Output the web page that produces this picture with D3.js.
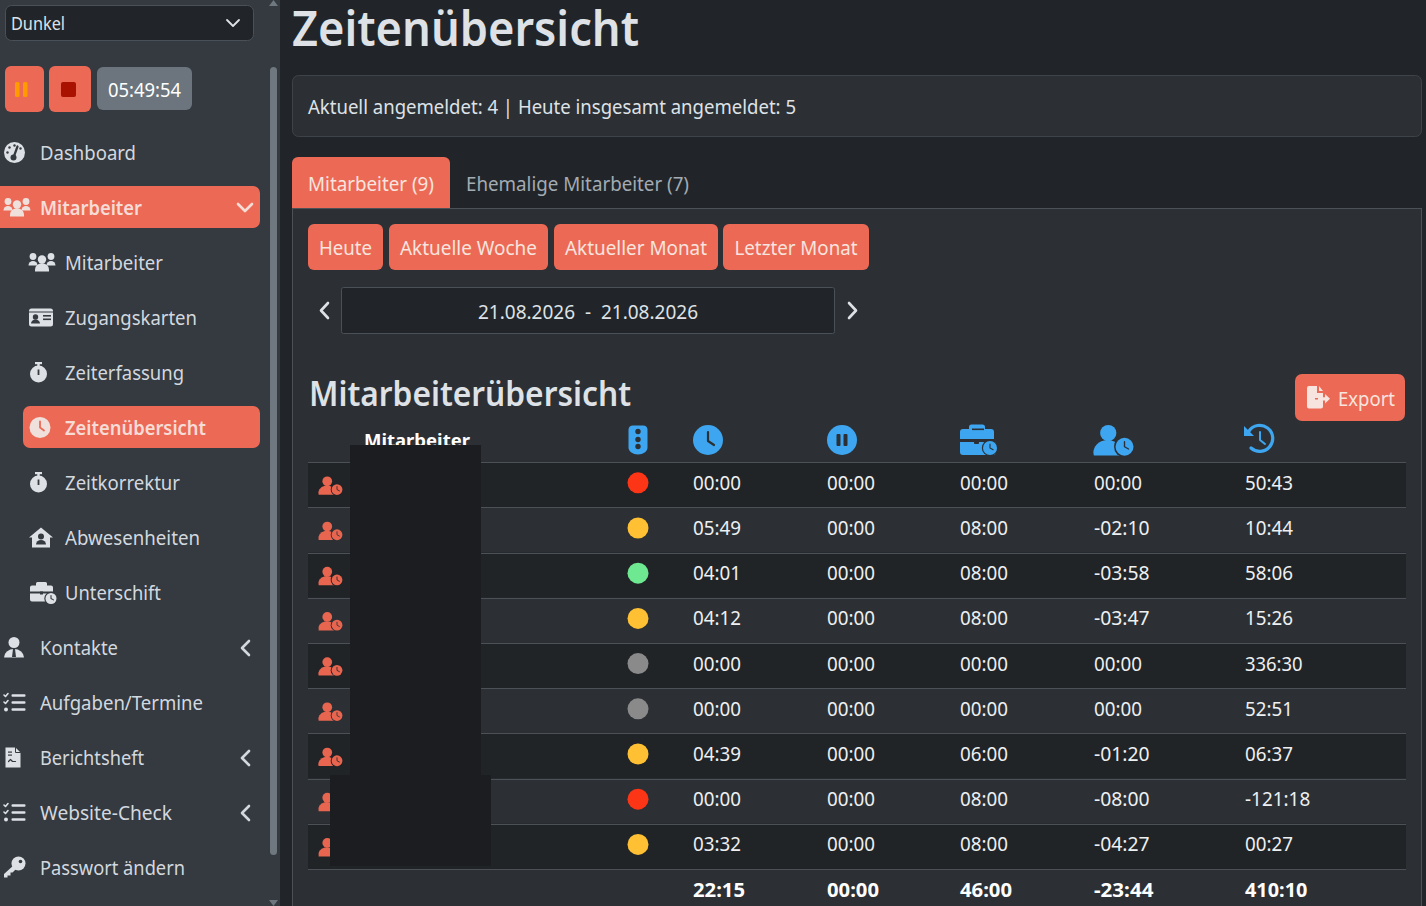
<!DOCTYPE html>
<html><head><meta charset="utf-8">
<script src="https://cdn.jsdelivr.net/npm/d3@7"></script>
<style>html,body{margin:0;padding:0;background:#212529;overflow:hidden}svg{display:block}text{font-family:"Noto Sans",sans-serif}</style>
</head><body><svg id="c" width="1426" height="906"></svg>
<script>
// ---- data ----
const statusCol = ["red","yellow","green","yellow","gray","gray","yellow","red","yellow"];
const worked = ["00:00","05:49","04:01","04:12","00:00","00:00","04:39","00:00","03:32"];
const pauses = ["00:00","00:00","00:00","00:00","00:00","00:00","00:00","00:00","00:00"];
const target = ["00:00","08:00","08:00","08:00","00:00","00:00","06:00","08:00","08:00"];
const diff = ["00:00","-02:10","-03:58","-03:47","00:00","00:00","-01:20","-08:00","-04:27"];
const balance = ["50:43","10:44","58:06","15:26","336:30","52:51","06:37","-121:18","00:27"];
const totals = ["22:15","00:00","46:00","-23:44","410:10"];
const navLabels = ["Dashboard","Mitarbeiter","Mitarbeiter","Zugangskarten","Zeiterfassung","Zeitenübersicht","Zeitkorrektur","Abwesenheiten","Unterschift","Kontakte","Aufgaben/Termine","Berichtsheft","Website-Check","Passwort ändern"];
const navIcons = ["gauge","users","users","card","watch","clock","watch","house","case","tie","list","doc","list","key"];
const navWidths = [96,102,98,132,119,141,115,135,96,78,163,104,132,145];
const navIndent = [0,0,1,1,1,1,1,1,1,0,0,0,0,0];
const navActive = [null,"full",null,null,null,"sub",null,null,null,null,null,null,null,null];
const navCaret = [null,"down",null,null,null,null,null,null,null,"left",null,"left","left",null];
const quickRanges = ["Heute","Aktuelle Woche","Aktueller Monat","Letzter Monat"];

// ---- palette / layout ----
const C = {page:"#212529",side:"#343a40",panel:"#2c3035",dark:"#212427",line:"#4b5157",accent:"#ec6a55",text:"#dee2e6",nav:"#d3d8df",blue:"#3ea6f0",red:"#e8654f",
  status:{red:"#fc3516",yellow:"#ffc133",green:"#6ee992",gray:"#8a8a8a"}};
const iconX = {gauge:14.5,users:17,card:41,watch:38.5,clock:40,house:41,case:42,tie:14,list:14.5,doc:12.5,key:14.5};
const svg = d3.select("#c");
const rect=(p,x,y,w,h,f,r=0,s=null)=>p.append("rect").attr("x",x).attr("y",y).attr("width",w).attr("height",h).attr("fill",f).attr("rx",r).attr("stroke",s);
const txt=(p,x,y,t,size,fill,w,weight=400,anchor="start")=>{const e=p.append("text").attr("x",x).attr("y",y).text(t).attr("font-size",size).attr("fill",fill).attr("font-weight",weight).attr("text-anchor",anchor);
  if(w) e.attr("textLength",w).attr("lengthAdjust","spacingAndGlyphs");return e;};
const line=(p,d,s,sw=2)=>p.append("path").attr("d",d).attr("fill","none").attr("stroke",s).attr("stroke-width",sw).attr("stroke-linecap","round").attr("stroke-linejoin","round");
const fill=(p,d,f)=>p.append("path").attr("d",d).attr("fill",f);
const circ=(p,x,y,r,f)=>p.append("circle").attr("cx",x).attr("cy",y).attr("r",r).attr("fill",f);

// ---- icons, centred on 0,0 ----
function clockBadge(g,x,y,r,f,bg){circ(g,x,y,r+1.2,bg);circ(g,x,y,r,f);line(g,`M${x} ${y-r*.55}V${y}L${x+r*.45} ${y+r*.25}`,bg,1.1);}
const icons={
 gauge(g,f,bg){circ(g,0,0,10.5,f);line(g,"M-1 5L3 -6",bg,2.2);circ(g,-1,5,3,bg);[[-7,0],[-5,-5],[0,-7],[6,-4]].forEach(d=>circ(g,d[0],d[1],1.2,bg));},
 users(g,f,bg){[-9,9].forEach(x=>{circ(g,x,-6,3.4,f);fill(g,`M${x-4.5} 3a4.5 4.5 0 0 1 9 0z`,f);});circ(g,0,-3,4.2,f);fill(g,"M-7 9v-2a5 4.5 0 0 1 14 0v2z",f);},
 card(g,f,bg){rect(g,-12,-9,24,18,f,2.5);rect(g,-12,-6,24,1,bg);circ(g,-5.5,-.5,2.7,bg);fill(g,"M-10 6a4.5 4 0 0 1 9 0z",bg);rect(g,2,-2.5,8,1.6,bg);rect(g,2,1,8,1.6,bg);},
 watch(g,f,bg){circ(g,0,1.5,8.5,f);rect(g,-3.5,-10.5,7,2.2,f);rect(g,-1.2,-9,2.4,3,f);rect(g,-.9,-3,1.8,5.5,bg);},
 clock(g,f,bg){circ(g,0,0,10.5,f);line(g,"M0 -6V0L4 3",bg,1.8);},
 house(g,f,bg){fill(g,"M0 -10L12 0H9V10H-9V0H-12Z",f);circ(g,0,-1,3,bg);fill(g,"M-5 7a5 4.5 0 0 1 10 0z",bg);},
 case(g,f,bg){fill(g,"M-12 -5a2 2 0 0 1 2-2h4v-2a1.5 1.5 0 0 1 1.5-1.5h8a1.5 1.5 0 0 1 1.5 1.5v2h4a2 2 0 0 1 2 2v4H-12zM-12 1H11V7a2 2 0 0 1-2 2H-10a2 2 0 0 1-2-2Z",f);rect(g,-2,-1,3,3,bg);clockBadge(g,9,6,5.5,f,bg);},
 tie(g,f,bg){circ(g,0,-5,5.5,f);fill(g,"M-10 10a10 8.5 0 0 1 20 0z",f);fill(g,"M-1 1.5h2l1 8h-4z",bg);},
 list(g,f,bg){[-7,0,7].forEach(y=>{rect(g,-3,y-1.2,14,2.4,f,1);});line(g,"M-10.5 -7.5l1.5 1.5 2.5-3",f,1.6);line(g,"M-10.5 -.5l1.5 1.5 2.5-3",f,1.6);circ(g,-8.5,7,2,f);},
 doc(g,f,bg){fill(g,"M-7 -10H3L8 -5V10H-7Z",f);line(g,"M-4 4l2 -2 2 2 3 0",bg,1.2);rect(g,-4.5,-6,4,1.2,bg);rect(g,-4.5,-3,4,1.2,bg);line(g,"M3 -10V-5H8",bg,1);},
 key(g,f,bg){circ(g,4,-4,7,f);circ(g,6,-6,1.8,bg);fill(g,"M0 -3L3 0L-2 5H-4V8H-7V10H-10.5V6.5Z",f);},
 light(g,f,bg){fill(g,"M-5 -14H5A4.5 4.5 0 0 1 9.5 -10V8C9.5 12 5 15 0 15S-9.5 12 -9.5 8V-10A4.5 4.5 0 0 1 -5 -14Z",f);[-8,0,7].forEach(y=>circ(g,0,y,2.7,bg));},
 bigClock(g,f,bg){circ(g,0,0,15,f);line(g,"M0 -8V1L6 5",bg,2.2);},
 pauseBig(g,f,bg){circ(g,0,0,15,f);rect(g,-5.5,-6,4,12,bg,1);rect(g,1.5,-6,4,12,bg,1);},
 caseBig(g,f,bg){fill(g,"M-19 -8a3 3 0 0 1 3-3h6v-2a2.5 2.5 0 0 1 2.5-2.5h11a2.5 2.5 0 0 1 2.5 2.5v2h6a3 3 0 0 1 3 3v7H-19zM-19 2H17V12a3 3 0 0 1-3 3H-16a3 3 0 0 1-3-3Z",f);rect(g,-7,-11.5,12,1.6,bg);rect(g,-5,0,5,4,bg,1);clockBadge(g,11,8,7,f,bg);},
 personClock(g,f,bg){circ(g,-3,-8,6.5,f);fill(g,"M-14.5 10a11 9.5 0 0 1 22 -5 l0 5z",f);clockBadge(g,10,3,7.2,f,bg);},
 history(g,f,bg){line(g,"M-11 -8A13 13 0 1 1 -9 9",f,3.2);fill(g,"M-16 -13V-3H-6Z",f);line(g,"M0 -7V1L5 5",f,2);},
 fileExport(g,f,bg){fill(g,"M-10 -10a2 2 0 0 1 2-2h8v7h6v5h-8v1.6h8v7a2 2 0 0 1-2 2h-12a2 2 0 0 1-2-2z",f);fill(g,"M2 -12L6 -7H2Z",f);fill(g,"M1 -.8H8V-4L13 .8 8 5.5V2.4H1Z",f);}
};
const icon=(name,x,y,f,bg,s=1)=>{const g=svg.append("g").attr("transform",`translate(${x},${y}) scale(${s})`);icons[name](g,f,bg);return g;};

// ---- page frame ----
rect(svg,0,0,1426,906,C.page);
rect(svg,0,0,280,906,C.side);
rect(svg,270,67,7,788,"#6f787f",3.5);
fill(svg,"M273.5 0L278 6H269Z","#6f787f");
fill(svg,"M273.5 906L278 900H269Z","#6f787f");

// theme select + timer
rect(svg,5.5,5.5,248,35,"#212529",6,"#495057");
txt(svg,11,30,"Dunkel",18,C.text,54);
line(svg,"M227 20l6 6 6-6","#dee2e6",1.8);
rect(svg,5,66,39,46,C.accent,6);
rect(svg,15,82,4.5,15,"#ff9a00",1.5);rect(svg,23,82,4.5,15,"#ff9a00",1.5);
rect(svg,49,66,42,46,C.accent,6);
rect(svg,61,82,15,15,"#a91200",2);
rect(svg,97,67,95,43,"#6c757d",6);
txt(svg,108,97,"05:49:54",20,"#fff",73);

// navigation
const navY=d3.scaleLinear().domain([0,13]).range([153,868]);
navLabels.forEach((label,i)=>{
  const y=navY(i),ind=navIndent[i],active=navActive[i];
  if(active==="full") rect(svg,-8,y-22,268,42,C.accent,7);
  if(active==="sub") rect(svg,23,y-22,237,42,C.accent,7);
  const col=active?"#f6dcd6":C.nav, bg=active?C.accent:C.side;
  const ix=navIcons[i]==="users"&&ind?42:iconX[navIcons[i]];
  icon(navIcons[i],ix,y-.5,active?"#f0e0dc":"#dde1e6",bg);
  txt(svg,ind?65:40,y+7,label,20,col,navWidths[i],active?600:400);
  if(navCaret[i]==="down") line(svg,`M238 ${y-4}l7 7 7-7`,"#f6dcd6",2.6);
  if(navCaret[i]==="left") line(svg,`M249 ${y-7}l-7 7 7 7`,C.nav,2.6);
});

// title + info card
txt(svg,292,46,"Zeitenübersicht",48,C.text,347,600);
rect(svg,292.5,75.5,1129,61,C.panel,6,"#3d4349");
txt(svg,308,114,"Aktuell angemeldet: 4 | Heute insgesamt angemeldet: 5",20,C.text,488);

// tab panel
rect(svg,292.5,208.5,1129,720,C.panel,0,C.line);
fill(svg,"M292 208V163a6 6 0 0 1 6-6H444a6 6 0 0 1 6 6V208Z",C.accent);
txt(svg,308,191,"Mitarbeiter (9)",20,"#f8e4df",126);
txt(svg,466,191,"Ehemalige Mitarbeiter (7)",20,"#a3abb3",223);

// quick ranges
const rangeX=[308,389,554,723],rangeW=[75,159,164,146],rangeT=[53,137,142,123];
quickRanges.forEach((t,i)=>{rect(svg,rangeX[i],224,rangeW[i],46,C.accent,6);txt(svg,rangeX[i]+rangeW[i]/2,255,t,20,"#f8e4df",rangeT[i],400,"middle");});

// date range
rect(svg,341.5,287.5,493,46,C.page,2,"#495057");
txt(svg,478,319,"21.08.2026  -  21.08.2026",20,C.text,220).attr("xml:space","preserve");
line(svg,"M328 303l-7 7.5 7 7.5",C.text,2.6);
line(svg,"M849 303l7 7.5-7 7.5",C.text,2.6);

// section header
txt(svg,309,406,"Mitarbeiterübersicht",35,C.text,322,600);
rect(svg,1295,374,110,47,C.accent,7);
icon("fileExport",1317,398,"#f8e4df",C.accent);
txt(svg,1338,406,"Export",20,"#f8e4df",57);

// table
const rowY=d3.scaleLinear().domain([0,10]).range([462.2,914.2]);
const colX=d3.scaleOrdinal().domain(["status","worked","pause","target","diff","balance"]).range([638,693,827,960,1094,1245]);
const tx0=308,tx1=1406;
const rows=d3.range(9);
txt(svg,364,447,"Mitarbeiter",18.5,"#fff",106,700);
svg.selectAll(".stripe").data(rows).join("rect").attr("class","stripe")
  .attr("x",tx0).attr("width",tx1-tx0).attr("y",d=>rowY(d)).attr("height",d=>rowY(d+1)-rowY(d))
  .attr("fill",d=>d%2?C.panel:C.dark);
svg.selectAll(".rule").data(d3.range(10)).join("line").attr("class","rule")
  .attr("x1",tx0).attr("x2",tx1).attr("y1",d=>Math.round(rowY(d))+.5).attr("y2",d=>Math.round(rowY(d))+.5)
  .attr("stroke",C.line).attr("stroke-width",1);
icon("light",638,439.5,C.blue,C.panel);
icon("bigClock",708,440,C.blue,C.panel);
icon("pauseBig",842,440,C.blue,C.panel);
icon("caseBig",979,440,C.blue,C.panel);
icon("personClock",1112,443,C.blue,C.panel,1.25);
icon("history",1260,439,C.blue,C.panel);
rows.forEach(i=>{
  const cy=(rowY(i)+rowY(i+1))/2-2;
  icon("personClock",329.5,cy+4.5,C.red,i%2?C.panel:C.dark,.75);
  circ(svg,colX("status"),cy,10.5,C.status[statusCol[i]]);
  [["worked",worked],["pause",pauses],["target",target],["diff",diff],["balance",balance]].forEach(([k,a])=>{
    const t=a[i];
    txt(svg,colX(k),cy+7,t,20,"#eef0f2",t.length*9.6+(t[0]==="-"?-2:0));
  });
});
["worked","pause","target","diff","balance"].forEach((k,i)=>{
  txt(svg,colX(k),897,totals[i],20,"#fff",totals[i].length*10.4+(totals[i][0]==="-"?-3:0),700);
});
// redaction blocks
rect(svg,350,445,131,330,"#1b1d20");
rect(svg,330,775,161,91,"#1b1d20");
</script></body></html>
